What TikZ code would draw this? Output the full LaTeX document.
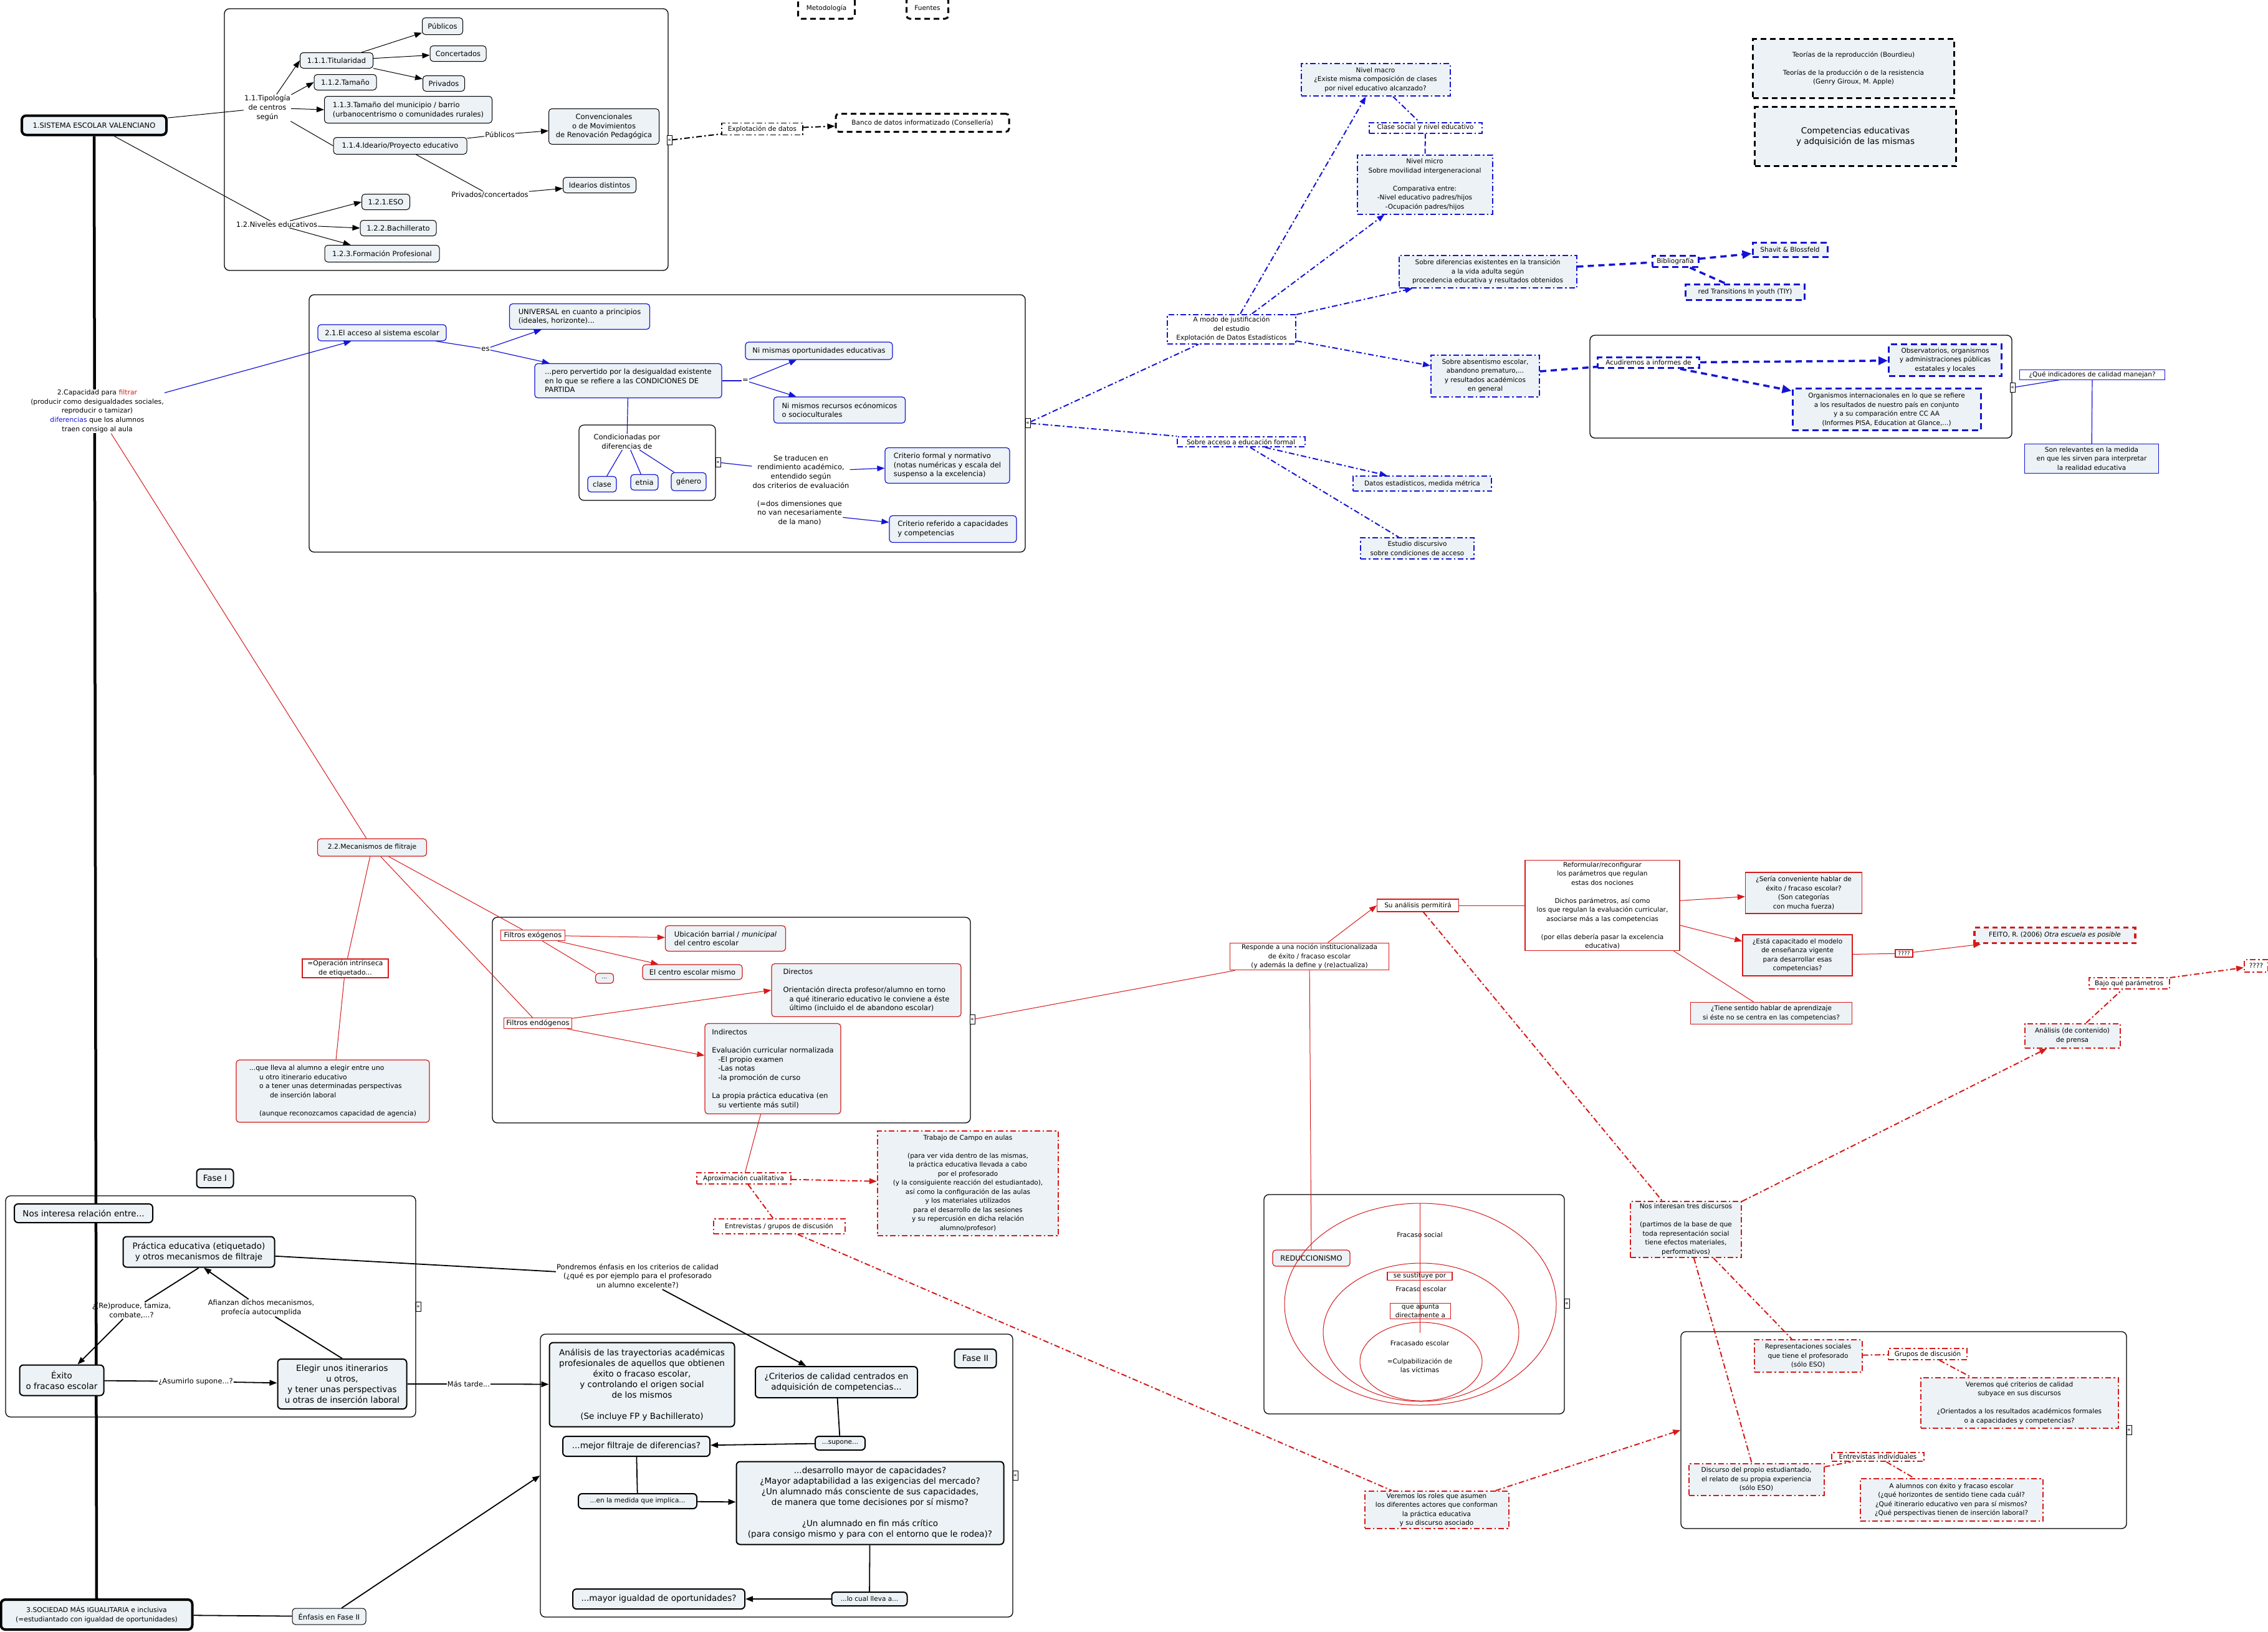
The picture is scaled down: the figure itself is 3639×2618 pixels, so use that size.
\documentclass[tikz,border=0pt]{standalone}
\usepackage{fontspec}
\setmainfont{DejaVu Sans}
\usetikzlibrary{arrows.meta}
\definecolor{fillc}{RGB}{236,242,245}
\definecolor{blueC}{RGB}{20,20,215}
\definecolor{redC}{RGB}{215,25,25}
\pgfdeclarelayer{bg}
\pgfsetlayers{bg,main}
\newcommand{\fA}{\fontsize{11.5}{14.6}\selectfont}
\newcommand{\fB}{\fontsize{10.5}{14.5}\selectfont}
\newcommand{\fC}{\fontsize{13.5}{17}\selectfont}
\newcommand{\fV}{\fontsize{10.8}{14.6}\selectfont}
\newcommand{\fS}{\fontsize{9}{10}\selectfont}
\tikzset{
  every node/.style={font=\fA, align=center, inner sep=2pt},
  sz/.style 2 args={minimum width=#1pt, minimum height=#2pt},
  grp/.style={draw=black, line width=1.3pt, rounded corners=8pt},
  bx/.style={draw=black, line width=1pt, rounded corners=5pt, fill=fillc},
  bxk/.style={draw=black, line width=2pt, rounded corners=6pt, fill=fillc, font=\fC},
  bxks/.style={bxk, font=\fB},
  bxmain/.style={draw=black, line width=4pt, rounded corners=7pt, fill=fillc},
  bxb/.style={draw=blueC, line width=1.2pt, rounded corners=5pt, fill=fillc},
  bxr/.style={draw=redC, line width=1.2pt, rounded corners=5pt, fill=fillc},
  rr/.style={draw=redC, line width=1.2pt, fill=white},
  rrf/.style={draw=redC, line width=1.4pt, fill=fillc},
  ddash/.style={dash pattern=on 9pt off 4pt on 2.5pt off 4pt},
  bdd/.style={draw=blueC, line width=2pt, ddash, fill=fillc, font=\fB},
  bddw/.style={bdd, fill=white},
  rdd/.style={draw=redC, line width=2pt, ddash, fill=fillc, font=\fB},
  rddw/.style={rdd, fill=white},
  bds/.style={draw=blueC, line width=3pt, dash pattern=on 10pt off 6pt, fill=fillc, font=\fB},
  bdsw/.style={bds, fill=white},
  kds/.style={draw=black, line width=3pt, dash pattern=on 9pt off 6pt, fill=fillc, font=\fB},
  bth/.style={draw=blueC, line width=1pt, fill=fillc, font=\fB},
  mk/.style={draw=black, line width=0.8pt, fill=white, inner sep=0pt, minimum width=8pt, minimum height=15pt, font=\fS},
  lab/.style={inner sep=1pt},
  arr/.style={-{Triangle[length=12pt,width=9pt]}},
  arrb/.style={-{Triangle[length=15pt,width=13pt]}},
  ln/.style={draw=black, line width=1pt},
  lnk/.style={draw=black, line width=1.8pt},
  bl/.style={draw=blueC, line width=1.2pt},
  rl/.style={draw=redC, line width=1pt},
  bld/.style={draw=blueC, line width=2pt, ddash},
  bls/.style={draw=blueC, line width=3.5pt, dash pattern=on 10pt off 7pt},
  rld/.style={draw=redC, line width=2pt, ddash},
  kld/.style={draw=black, line width=2pt, ddash},
}
\begin{document}
\begin{tikzpicture}[x=1pt,y=-1pt]
\useasboundingbox (0,0) rectangle (3639,2618);

% ---------- group boxes
\node[grp, sz={712}{420}] (g1) at (716,224) {};
\node[grp, sz={1149}{413}] (g2) at (1070.5,679.5) {};
\node[grp, sz={767}{330}] (g3) at (1173.5,1637) {};
\node[grp, sz={658}{355}] (g4) at (338,2096.5) {};
\node[grp, sz={758}{454}] (g5) at (1246,2368) {};
\node[grp, sz={677}{165}] (g6) at (2889.5,620.5) {};
\node[grp, sz={482}{352}] (g7) at (2269,2093) {};
\node[grp, sz={715}{316}] (g8) at (3054.5,2295) {};

% ---------- region 1
\node[bxmain, sz={232}{31}] (sist) at (151,201) {1.SISTEMA ESCOLAR VALENCIANO};
\node[lab] (tip) at (429,173) {1.1.Tipología\\de centros\\según};
\node[bx, sz={117}{25}] (tit) at (540,97) {1.1.1.Titularidad};
\node[bx, sz={100}{25}] (tam) at (554,132) {1.1.2.Tamaño};
\node[bx, sz={269}{43}, align=left] (tmun) at (655,176) {1.1.3.Tamaño del municipio / barrio\\(urbanocentrismo o comunidades rurales)};
\node[bx, sz={214}{27}] (ide) at (642,234) {1.1.4.Ideario/Proyecto educativo};
\node[bx, sz={65}{27}] (pub) at (710,42) {Públicos};
\node[bx, sz={90}{25}] (con) at (735,86) {Concertados};
\node[bx, sz={67}{25}] (pri) at (712,134) {Privados};
\node[bx, sz={177}{57}] (conv) at (969,203) {Convencionales\\o de Movimientos\\de Renovación Pedagógica};
\node[lab] (lpub) at (802,216) {Públicos};
\node[lab] (lpc) at (786,313) {Privados/concertados};
\node[bx, sz={117}{25}] (idd) at (962,297) {Idearios distintos};
\node[lab] (niv) at (444,360) {1.2.Niveles educativos};
\node[bx, sz={77}{25}] (eso) at (619,324) {1.2.1.ESO};
\node[bx, sz={122}{25}] (bach) at (639,366) {1.2.2.Bachillerato};
\node[bx, sz={184}{27}] (fp) at (613,407) {1.2.3.Formación Profesional};
\node[mk] (mk1) at (1074,225) {«};

\node[kds, fill=white, rounded corners=5pt, sz={91}{34}] (meto) at (1326,13) {Metodología};
\node[kds, fill=white, rounded corners=5pt, sz={67}{34}] (fuen) at (1488,13) {Fuentes};
\node[draw=black, line width=1.2pt, ddash, fill=white, sz={130}{19}, font=\fB, inner sep=1pt] (expl) at (1223,207) {Explotación de datos};
\node[kds, fill=white, rounded corners=5pt, sz={278}{29}] (banco) at (1480,197) {Banco de datos informatizado (Consellería)};

\draw[ln] (sist) -- (tip);
\draw[ln,arr] (tip) -- (tit.west);
\draw[ln,arr] (tip) -- (tam.west);
\draw[ln,arr] (tip) -- (tmun.west);
\draw[ln] (tip) -- (ide.west);
\draw[ln,arr] (tit) -- (pub);
\draw[ln,arr] (tit) -- (con);
\draw[ln,arr] (tit) -- (pri);
\draw[ln] (ide) -- (lpub);
\draw[ln,arr] (lpub) -- (conv);
\draw[ln] (ide) -- (lpc);
\draw[ln,arr] (lpc) -- (idd);
\draw[ln] (sist) -- (niv);
\draw[ln,arr] (niv) -- (eso.west);
\draw[ln,arr] (niv) -- (bach.west);
\draw[ln,arr] (niv) -- (fp);
\draw[kld] (mk1) -- (expl);
\draw[kld,arr] (expl) -- (banco);

% ---------- region 2
\node[bxb, sz={206}{26}] (acc) at (613,534) {2.1.El acceso al sistema escolar};
\node[lab] (les) at (779,560) {es};
\node[bxb, sz={225}{41}, align=left] (univ) at (930,508) {UNIVERSAL en cuanto a principios\\(ideales, horizonte)...};
\node[bxb, sz={300}{55}, align=left] (pero) at (1008,611) {...pero pervertido por la desigualdad existente\\en lo que se refiere a las CONDICIONES DE\\PARTIDA};
\node[lab] (leq) at (1196,611) {=};
\node[bxb, sz={236}{28}] (nimis) at (1314,563) {Ni mismas oportunidades educativas};
\node[bxb, sz={211}{42}, align=left] (nirec) at (1347,658) {Ni mismos recursos ecónomicos\\o socioculturales};
\node[grp, line width=1.2pt, sz={219}{121}] (gcond) at (1038.5,742.5) {};
\node[lab] (cond) at (1006,709) {Condicionadas por\\diferencias de};
\node[bxb, sz={46}{25}] (clase) at (966,777) {clase};
\node[bxb, sz={44}{25}] (etnia) at (1034,774) {etnia};
\node[bxb, sz={56}{29}] (gen) at (1105,773) {género};
\node[mk] (mk2) at (1152,742) {«};
\node[lab] (trad) at (1285,757) {Se traducen en\\rendimiento académico,\\entendido según\\dos criterios de evaluación};
\node[lab] (dosd) at (1283,823) {(=dos dimensiones que\\no van necesariamente\\de la mano)};
\node[bxb, sz={200}{57}, align=left] (crf) at (1520,747) {Criterio formal y normativo\\(notas numéricas y escala del\\suspenso a la excelencia)};
\node[bxb, sz={204}{43}, align=left] (crc) at (1529,849) {Criterio referido a capacidades\\y competencias};
\node[mk] (mk3) at (1649,679) {«};

\draw[bl] (acc) -- (les);
\draw[bl,arr] (les) -- (univ);
\draw[bl,arr] (les) -- (pero);
\draw[bl] (pero) -- (leq);
\draw[bl,arr] (leq) -- (nimis);
\draw[bl,arr] (leq) -- (nirec);
\draw[bl] (pero) -- (cond);
\draw[bl] (cond) -- (clase);
\draw[bl] (cond) -- (etnia);
\draw[bl] (cond) -- (gen);
\draw[bl] (mk2) -- (trad);
\draw[bl,arr] (trad) -- (crf);
\draw[bl,arr] (dosd) -- (crc);

% ---------- capacidad and filtering
\node[font=\fV, fill=white, inner sep=1pt] (cap) at (156,660) {2.Capacidad para \textcolor{redC}{filtrar}\\(producir como desigualdades sociales,\\reproducir o tamizar)\\\textcolor{blueC}{diferencias} que los alumnos\\traen consigo al aula};
\node[bxr, font=\fV, sz={175}{28}] (mec) at (597,1360) {2.2.Mecanismos de flitraje};
\node[rr, font=\fV, sz={138}{30}, inner sep=1pt] (oper) at (554,1554) {=Operación intrínseca\\de etiquetado...};
\node[bxr, font=\fV, sz={310}{100}, align=left] (llev) at (534,1751) {...que lleva al alumno a elegir entre uno\\\hspace*{16pt}u otro itinerario educativo\\\hspace*{16pt}o a tener unas determinadas perspectivas\\\hspace*{33pt}de inserción laboral\\ ~\\\hspace*{16pt}(aunque reconozcamos capacidad de agencia)};

\draw[bl,arr] (cap) -- (acc);
\draw[rl] (cap) -- (mec);
\draw[rl] (mec) -- (oper);
\draw[rl] (oper) -- (llev);

\node[rr, sz={103}{17}, inner sep=1pt] (fexo) at (855,1501) {Filtros exógenos};
\node[bxr, sz={193}{41}, align=left] (ubic) at (1164,1506) {Ubicación barrial / \textit{municipal}\\del centro escolar};
\node[bxr, sz={160}{24}] (centro) at (1111,1560) {El centro escolar mismo};
\node[bxr, sz={29}{16}, inner sep=1pt, font=\fS] (dots) at (970,1570) {...};
\node[bxr, sz={304}{85}, align=left] (direc) at (1390,1589) {Directos\\ ~\\Orientación directa profesor/alumno en torno\\\hspace*{10pt}a qué itinerario educativo le conviene a éste\\\hspace*{10pt}último (incluido el de abandono escolar)};
\node[rr, sz={109}{17}, inner sep=1pt] (fendo) at (863,1642) {Filtros endógenos};
\node[bxr, sz={218}{145}, align=left] (indir) at (1240,1715) {Indirectos\\ ~\\Evaluación curricular normalizada\\\hspace*{10pt}-El propio examen\\\hspace*{10pt}-Las notas\\\hspace*{10pt}-la promoción de curso\\ ~\\La propia práctica educativa (en\\\hspace*{10pt}su vertiente más sutil)};
\node[mk] (mk4) at (1560,1636) {«};

\draw[rl] (mec) -- (fexo);
\draw[rl] (mec) -- (fendo);
\draw[rl,arr] (fexo) -- (ubic);
\draw[rl,arr] (fexo) -- (centro);
\draw[rl] (fexo) -- (dots);
\draw[rl,arr] (fendo) -- (direc.west);
\draw[rl,arr] (fendo) -- (indir);

\node[rddw, sz={151}{18}, inner sep=1pt] (aprox) at (1193,1891) {Aproximación cualitativa};
\node[rdd, sz={290}{168}] (trab) at (1553,1899) {Trabajo de Campo en aulas\\ ~\\(para ver vida dentro de las mismas,\\la práctica educativa llevada a cabo\\por el profesorado\\(y la consiguiente reacción del estudiantado),\\así como la configuración de las aulas\\y los materiales utilizados\\para el desarrollo de las sesiones\\y su repercusión en dicha relación\\alumno/profesor)};
\node[rddw, sz={211}{24}] (entg) at (1250,1968) {Entrevistas / grupos de discusión};

\draw[rl] (indir) -- (aprox);
\draw[rld,arr] (aprox) -- (trab);
\draw[rld] (aprox) -- (entg);

% ---------- Fase I
\node[bxk, sz={59}{30}] (fase1) at (345,1891) {Fase I};
\node[bxk, sz={222}{30}] (nos) at (134,1947) {Nos interesa relación entre...};
\node[bxk, sz={243}{49}] (prac) at (319,2009) {Práctica educativa (etiquetado)\\y otros mecanismos de filtraje};
\node[lab] (lre) at (211,2103) {¿(Re)produce, tamiza,\\combate,...?};
\node[lab] (lafi) at (419,2099) {Afianzan dichos mecanismos,\\profecía autocumplida};
\node[bxk, sz={135}{49}] (exito) at (99,2215) {Éxito\\o fracaso escolar};
\node[lab] (lasu) at (314,2217) {¿Asumirlo supone...?};
\node[bxk, sz={207}{80}] (eleg) at (549,2221) {Elegir unos itinerarios\\u otros,\\y tener unas perspectivas\\u otras de inserción laboral};
\node[mk] (mk5) at (671,2097) {«};
\node[lab] (lmas) at (752,2221) {Más tarde...};
\node[lab] (lpon) at (1023,2048) {Pondremos énfasis en los criterios de calidad\\(¿qué es por ejemplo para el profesorado\\un alumno excelente?)};

% ---------- Fase II
\node[bxk, sz={297}{135}] (anal) at (1030,2222) {Análisis de las trayectorias académicas\\profesionales de aquellos que obtienen\\éxito o fracaso escolar,\\y controlando el origen social\\de los mismos\\ ~\\(Se incluye FP y Bachillerato)};
\node[bxk, sz={260}{50}] (crit) at (1342,2218) {¿Criterios de calidad centrados en\\adquisición de competencias...};
\node[bxk, sz={67}{30}] (fase2) at (1565,2180) {Fase II};
\node[bxks, sz={80}{22}] (sup) at (1348,2316) {...supone...};
\node[bxk, sz={236}{32}] (mejor) at (1021,2321) {...mejor filtraje de diferencias?};
\node[bxks, sz={190}{24}] (med) at (1023,2409) {...en la medida que implica...};
\node[bxk, sz={429}{133}] (des) at (1396,2412) {...desarrollo mayor de capacidades?\\¿Mayor adaptabilidad a las exigencias del mercado?\\¿Un alumnado más consciente de sus capacidades,\\de manera que tome decisiones por sí mismo?\\ ~\\¿Un alumnado en fin más crítico\\(para consigo mismo y para con el entorno que le rodea)?};
\node[bxks, sz={121}{22}] (cual) at (1395,2566) {...lo cual lleva a...};
\node[bxk, sz={276}{32}] (igual) at (1057,2566) {...mayor igualdad de oportunidades?};
\node[mk] (mk6) at (1629,2368) {«};

\node[bxmain, sz={307}{48}, font=\fV] (soc) at (155,2591) {3.SOCIEDAD MÁS IGUALITARIA e inclusiva\\(=estudiantado con igualdad de oportunidades)};
\node[bx, sz={118}{26}] (enf) at (528,2594) {Énfasis en Fase II};

\draw[lnk] (prac.south) -- (lre);
\draw[lnk,arr] (lre) -- (exito);
\draw[lnk] (eleg.north) -- (lafi);
\draw[lnk,arr] (lafi) -- ([xshift=8pt]prac.south);
\draw[lnk] (exito) -- (lasu);
\draw[lnk,arr] (lasu) -- (eleg);
\draw[lnk] (eleg) -- (lmas);
\draw[lnk,arr] (lmas) -- (anal);
\draw[lnk] (prac) -- (lpon);
\draw[lnk,arr] (lpon) -- (crit);
\draw[lnk] (crit) -- (sup);
\draw[lnk,arr] (sup) -- (mejor);
\draw[lnk] (mejor) -- (med);
\draw[lnk,arr] (med) -- (des);
\draw[lnk] (des) -- (cual);
\draw[lnk,arr] (cual) -- (igual);
\draw[lnk] (soc) -- (enf);
\draw[lnk,arr] (enf) -- (g5.west);

\begin{pgfonlayer}{bg}
\draw[line width=4.5pt] (sist.south) -- (soc.north);
\end{pgfonlayer}

% ---------- blue top right
\node[bdd, sz={239}{52}] (macro) at (2207,128) {Nivel macro\\¿Existe misma composición de clases\\por nivel educativo alcanzado?};
\node[bddw, sz={181}{17}, inner sep=1pt] (clas) at (2287,205) {Clase social y nivel educativo};
\node[bdd, sz={217}{95}] (micro) at (2286,296) {Nivel micro\\Sobre movilidad intergeneracional\\ ~\\Comparativa entre:\\-Nivel educativo padres/hijos\\-Ocupación padres/hijos};
\node[bdd, sz={285}{52}] (sdif) at (2387,436) {Sobre diferencias existentes en la transición\\a la vida adulta según\\procedencia educativa y resultados obtenidos};
\node[bddw, sz={206}{47}] (amodo) at (1976,528) {A modo de justificación\\del estudio\\Explotación de Datos Estadísticos};
\node[bdd, sz={174}{67}] (absen) at (2383,603) {Sobre absentismo escolar,\\abandono prematuro,...\\y resultados académicos\\en general};
\node[bddw, sz={205}{16}, inner sep=1pt] (acceso) at (1991,709) {Sobre acceso a educación formal};
\node[bdd, sz={222}{24}] (datos) at (2282,776) {Datos estadísticos, medida métrica};
\node[bdd, sz={182}{34}] (estud) at (2274,880) {Estudio discursivo\\sobre condiciones de acceso};

\draw[bld] (mk3) -- (amodo);
\draw[bld] (mk3) -- (acceso);
\draw[bld,arr] (amodo) -- (macro);
\draw[bld,arr] (amodo) -- (micro);
\draw[bld,arr] (amodo) -- (sdif);
\draw[bld,arr] (amodo) -- (absen);
\draw[bld] (macro) -- (clas);
\draw[draw=blueC, line width=2pt, dash pattern=on 8pt off 4pt] (clas) -- (micro);
\draw[bld,arr] (acceso) -- (datos);
\draw[bld] (acceso) -- (estud);

\node[kds, sz={323}{95}] (teor) at (2974,110) {Teorías de la reproducción (Bourdieu)\\ ~\\Teorías de la producción o de la resistencia\\(Genry Giroux, M. Apple)};
\node[kds, sz={323}{95}, font=\fC] (comp) at (2977,219) {Competencias educativas\\y adquisición de las mismas};
\node[bdsw, sz={74}{18}, inner sep=1pt] (bibl) at (2688,419) {Bibliografía};
\node[bds, sz={120}{23}, inner sep=1pt] (shav) at (2872,401) {Shavit \& Blossfeld};
\node[bds, sz={191}{25}] (tiy) at (2800,469) {red Transitions In youth (TIY)};
\node[bdsw, sz={163}{17}, inner sep=1pt] (acud) at (2645,582) {Acudiremos a informes de};
\node[bds, sz={181}{51}] (obs) at (3121,578) {Observatorios, organismos\\y administraciones públicas\\estatales y locales};
\node[bds, sz={302}{67}] (orgi) at (3027,657) {Organismos internacionales en lo que se refiere\\a los resultados de nuestro país en conjunto\\y a su comparación entre CC AA\\(Informes PISA, Education at Glance,...)};
\node[mk] (mk7) at (3229,622) {«};
\node[draw=blueC, line width=1pt, fill=white, font=\fB, sz={233}{16}, inner sep=1pt] (que) at (3357,601) {¿Qué indicadores de calidad manejan?};
\node[bth, sz={215}{47}] (son) at (3356,736) {Son relevantes en la medida\\en que les sirven para interpretar\\la realidad educativa};

\draw[bls] (sdif) -- (bibl);
\draw[bls,arrb] (bibl) -- (shav);
\draw[bls] (bibl) -- (tiy);
\draw[bls] (absen) -- (acud);
\draw[bls,arrb] (acud) -- (obs);
\draw[bls,arrb] (acud) -- (orgi);
\draw[bl] (mk7) -- (que);
\draw[bl] (que) -- (son);

% ---------- red right
\node[rr, font=\fB, sz={255}{43}] (resp) at (2101,1535) {Responde a una noción institucionalizada\\de éxito / fracaso escolar\\(y además la define y (re)actualiza)};
\node[rr, font=\fB, sz={131}{20}, inner sep=1pt] (suan) at (2275,1453) {Su análisis permitirá};
\node[rr, font=\fB, sz={248}{145}, inner sep=0.5pt] (refo) at (2571,1453) {Reformular/reconfigurar\\los parámetros que regulan\\estas dos nociones\\ ~\\Dichos parámetros, así como\\los que regulan la evaluación curricular,\\asociarse más a las competencias\\ ~\\(por ellas debería pasar la excelencia\\educativa)};
\node[rrf, font=\fB, sz={187}{66}] (seri) at (2894,1433) {¿Sería conveniente hablar de\\éxito / fracaso escolar?\\(Son categorías\\con mucha fuerza)};
\node[rrf, font=\fB, sz={176}{66}] (esta) at (2884,1533) {¿Está capacitado el modelo\\de enseñanza vigente\\para desarrollar esas\\competencias?};
\node[rrf, font=\fB, sz={259}{35}] (tien) at (2842,1626) {¿Tiene sentido hablar de aprendizaje\\si éste no se centra en las competencias?};
\node[rr, font=\fS, sz={28}{12}, inner sep=0.5pt] (qa) at (3055,1530) {????};
\node[draw=redC, line width=3.5pt, dash pattern=on 8pt off 6pt, fill=fillc, font=\fB, sz={258}{25}] (feito) at (3297,1501) {FEITO, R. (2006) \textit{Otra escuela es posible}};
\node[rddw, sz={129}{18}, inner sep=1pt] (bajo) at (3416,1578) {Bajo qué parámetros};
\node[rddw, sz={38}{20}, inner sep=1pt] (qb) at (3620,1550) {????};
\node[rdd, sz={153}{39}] (prensa) at (3325,1662) {Análisis (de contenido)\\de prensa};

\node[bxr, sz={124}{26}] (redu) at (2104,2019) {REDUCCIONISMO};
\draw[rl] (2279,2093) ellipse [x radius=218pt, y radius=162pt];
\draw[rl] (2280,2138) ellipse [x radius=157pt, y radius=111pt];
\draw[rl] (2280,2185) ellipse [x radius=98pt, y radius=63pt];
\node[lab, font=\fB] (fsoc) at (2278,1982) {Fracaso social};
\node[rr, font=\fB, sz={104}{13}, inner sep=0.5pt] (sust) at (2278,2048) {se sustituye por};
\node[lab, font=\fB] (fesc) at (2280,2069) {Fracaso escolar};
\node[rr, font=\fB, sz={97}{25}, inner sep=0.5pt] (apun) at (2279,2104) {que apunta\\directamente a};
\node[lab, font=\fB] (fdo) at (2278,2177) {Fracasado escolar\\ ~\\=Culpabilización de\\las víctimas};
\node[mk] (mk8) at (2514,2092) {«};
\coordinate (vtop) at (2278,1931);
\coordinate (vbot) at (2278,2139);
\draw[rl] (vtop) -- (vbot);

\node[rdd, sz={178}{90}] (nos3) at (2705,1973) {Nos interesan tres discursos\\ ~\\(partimos de la base de que\\toda representación social\\tiene efectos materiales,\\performativos)};
\node[rdd, sz={173}{52}] (repr) at (2901,2176) {Representaciones sociales\\que tiene el profesorado\\(sólo ESO)};
\node[rddw, sz={126}{18}, inner sep=1pt] (grup) at (3093,2173) {Grupos de discusión};
\node[rdd, sz={317}{81}] (vercrit) at (3240,2251) {Veremos qué criterios de calidad\\subyace en sus discursos\\ ~\\¿Orientados a los resultados académicos formales\\o a capacidades y competencias?};
\node[rddw, sz={148}{14}, inner sep=0.5pt] (entind) at (3013,2338) {Entrevistas individuales};
\node[rdd, sz={217}{51}] (disc) at (2818,2374) {Discurso del propio estudiantado,\\el relato de su propia experiencia\\(sólo ESO)};
\node[rdd, sz={293}{68}] (alum) at (3131,2407) {A alumnos con éxito y fracaso escolar\\(¿qué horizontes de sentido tiene cada cuál?\\¿Qué itinerario educativo ven para sí mismos?\\¿Qué perspectivas tienen de inserción laboral?};
\node[mk] (mk9) at (3416,2295) {«};
\node[rdd, sz={231}{60}] (rol) at (2305,2423) {Veremos los roles que asumen\\los diferentes actores que conforman\\la práctica educativa\\y su discurso asociado};

\draw[rl] (mk4) -- (resp);
\draw[rl,arr] (resp) -- (suan.west);
\draw[rl] (suan) -- (refo);
\draw[rl,arr] (refo) -- (seri);
\draw[rl,arr] (refo) -- (esta);
\draw[rl] (refo) -- (tien);
\draw[rl] (esta) -- (qa);
\draw[rl,arr] (qa) -- (feito);
\draw[rl] (resp) -- (redu);
\draw[rld] (suan) -- (nos3);
\draw[rld,arr] (nos3) -- (prensa);
\draw[rld] (prensa) -- (bajo);
\draw[rld,arr] (bajo) -- (qb);
\draw[rld] (nos3) -- (repr);
\draw[rld] (nos3) -- (disc);
\draw[rld] (repr) -- (grup);
\draw[rld] (grup) -- (vercrit);
\draw[rld] (disc) -- (entind);
\draw[rld] (entind) -- (alum);
\draw[rld] (entg) -- (rol);
\draw[rld,arr] (rol) -- (g8.west);
\end{tikzpicture}
\end{document}
